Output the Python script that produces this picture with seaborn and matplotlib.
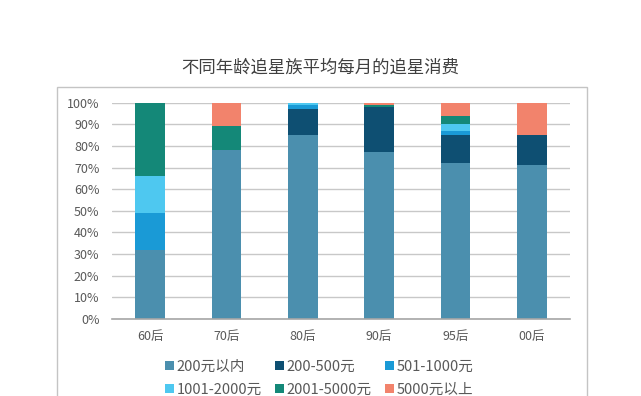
import matplotlib
matplotlib.use("Agg")
import matplotlib.pyplot as plt
import matplotlib.patches as mpatches
import seaborn as sns
import pandas as pd
import numpy as np

categories = ["60后", "70后", "80后", "90后", "95后", "00后"]
series_names = ["200元以内", "200-500元", "501-1000元", "1001-2000元", "2001-5000元", "5000元以上"]
s_within200 = [32, 78, 85, 77, 72, 71]
s_200_500 = [0, 0, 12, 21, 13, 14]
s_501_1000 = [17, 0, 2, 0, 2, 0]
s_1001_2000 = [17, 0, 1, 0, 3, 0]
s_2001_5000 = [34, 11, 0, 1, 4, 0]
s_over5000 = [0, 11, 0, 1, 6, 15]
colors = ["#4b8fae", "#0e4f72", "#1a9ad6", "#4ec8f0", "#148878", "#f2836c"]
ytick_labels = ["0%", "10%", "20%", "30%", "40%", "50%", "60%", "70%", "80%", "90%", "100%"]

series_values = [s_within200, s_200_500, s_501_1000, s_1001_2000, s_2001_5000, s_over5000]

sns.set_theme(style="white")
plt.rcParams["font.family"] = ["Noto Sans CJK SC", "DejaVu Sans"]

fig = plt.figure(figsize=(6.41, 3.96), dpi=100)
ax = fig.add_axes([0.1747, 0.1944, 0.889 - 0.1747, 0.7407 - 0.1944])

bottoms = np.zeros(len(categories))
for name, vals, col in zip(series_names, series_values, colors):
    df = pd.DataFrame({"cat": categories, "val": vals})
    sns.barplot(data=df, x="cat", y="val", bottom=bottoms.copy(), color=col,
                width=0.39, ax=ax, saturation=1, linewidth=0, errorbar=None)
    bottoms += np.array(vals, dtype=float)

ax.set_xlim(-0.5, 5.5)
ax.set_ylim(0, 100)
ax.set_yticks(np.arange(0, 101, 10))
ax.set_yticklabels(ytick_labels)
ax.set_xlabel("")
ax.set_ylabel("")
ax.yaxis.grid(True, color="#c8c8c8", linewidth=1)
ax.set_axisbelow(True)
for sp in ["top", "right", "left"]:
    ax.spines[sp].set_visible(False)
ax.spines["bottom"].set_color("#a6a6a6")
ax.spines["bottom"].set_linewidth(1.2)
ax.tick_params(axis="both", length=0, colors="#595959", labelsize=9)
ax.tick_params(axis="y", pad=9)
ax.tick_params(axis="x", pad=8)

# outer chart frame
frame = mpatches.Rectangle((57 / 641, -0.2), (587 - 57) / 641, 0.2 + 1 - 87 / 396,
                           transform=fig.transFigure, fill=False,
                           edgecolor="#c4c4c4", linewidth=1, zorder=0)
fig.patches.append(frame)

fig.text(0.5, 1 - 68 / 396, "不同年龄追星族平均每月的追星消费", ha="center", va="center",
         fontsize=12.5, color="#404040")

handles = [mpatches.Patch(facecolor=c, edgecolor="none", label=n)
           for n, c in zip(series_names, colors)]
order = [0, 3, 1, 4, 2, 5]
fig.legend(handles=[handles[i] for i in order], ncol=3, loc="upper left",
           bbox_to_anchor=(165 / 641, 1 - 360 / 396), frameon=False,
           fontsize=10.5, labelcolor="#595959", handlelength=0.6, handleheight=0.6,
           handletextpad=0.2, columnspacing=0.9, borderaxespad=0, borderpad=0,
           labelspacing=0.6)

fig.savefig("out.png", dpi=100, facecolor="white")
